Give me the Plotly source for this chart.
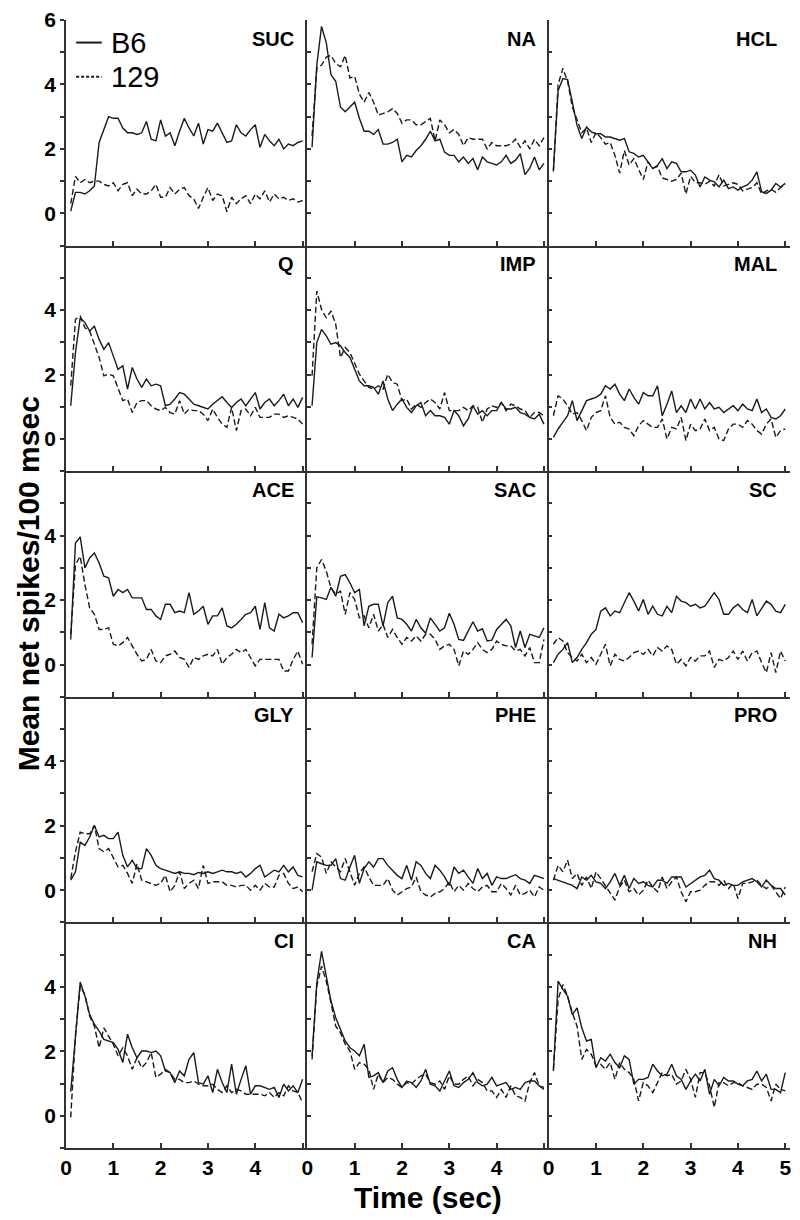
import plotly.graph_objects as go
from plotly.subplots import make_subplots

# time bins (sec), 100 ms each
time_s = [round(0.1 * i, 1) for i in range(1, 51)]

stimuli = ["SUC", "NA", "HCL", "Q", "IMP", "MAL", "ACE", "SAC", "SC",
           "GLY", "PHE", "PRO", "CI", "CA", "NH"]
strains = ["B6", "129"]

suc_b6 = [0.07, 0.65, 0.65, 0.6, 0.7, 0.85, 2.2, 2.6, 3.0, 2.95, 2.95, 2.65, 2.5, 2.5, 2.45, 2.5, 2.85, 2.3, 2.25, 2.9,
          2.4, 2.5, 2.1, 2.55, 2.95, 2.65, 2.4, 2.8, 2.15, 2.6, 2.55, 2.8, 2.5, 2.2, 2.25, 2.75, 2.5, 2.4, 2.6, 2.75,
          2.05, 2.45, 2.25, 2.1, 2.3, 2.0, 2.15, 2.1, 2.2, 2.25]
suc_129 = [0.3, 1.15, 0.95, 1.05, 0.95, 1.0, 1.0, 0.9, 0.85, 0.95, 0.7, 0.9, 0.95, 0.55, 0.75, 0.6, 0.6, 0.7, 0.9, 0.5,
           0.5, 0.8, 0.6, 0.75, 0.8, 0.55, 0.45, 0.15, 0.5, 0.8, 0.4, 0.6, 0.55, 0.05, 0.5, 0.3, 0.45, 0.55, 0.3, 0.6,
           0.45, 0.7, 0.35, 0.6, 0.45, 0.5, 0.4, 0.45, 0.35, 0.4]
na_b6 = [2.05, 4.6, 5.8, 5.3, 4.3, 4.1, 3.3, 3.15, 3.3, 3.45, 2.95, 2.55, 2.55, 2.45, 2.6, 2.15, 2.15, 2.2, 2.3, 1.6,
         1.8, 1.75, 1.95, 2.1, 2.3, 2.55, 2.25, 2.3, 1.9, 1.8, 1.8, 1.6, 1.75, 1.55, 1.7, 1.35, 1.75, 1.6, 1.55, 1.5,
         1.6, 1.8, 1.55, 1.65, 1.85, 1.2, 1.4, 1.75, 1.35, 1.55]
na_129 = [2.4, 4.5, 4.6, 4.85, 4.9, 4.65, 4.55, 4.9, 4.2, 4.25, 3.7, 3.45, 3.75, 3.45, 3.05, 3.1, 3.15, 3.25, 3.1, 2.8,
          2.9, 2.9, 2.75, 2.75, 2.85, 2.95, 2.25, 2.9, 2.75, 2.5, 2.6, 2.45, 2.1, 2.35, 2.3, 2.3, 2.3, 2.0, 2.2, 2.1,
          2.1, 2.1, 2.15, 2.3, 2.05, 2.25, 2.0, 2.3, 2.1, 2.35]
hcl_b6 = [1.34, 3.81, 4.18, 4.15, 3.45, 2.73, 2.32, 2.68, 2.53, 2.47, 2.47, 2.37, 2.37, 2.32, 2.27, 2.32, 1.91, 1.86,
          1.75, 1.8, 1.6, 1.39, 1.49, 1.7, 1.39, 1.6, 1.55, 1.29, 1.29, 1.34, 1.19, 0.82, 1.13, 1.03, 0.98, 0.82, 1.03,
          0.77, 0.82, 0.72, 0.82, 0.88, 1.03, 1.29, 0.67, 0.62, 0.72, 0.93, 0.82, 0.93]
hcl_129 = [1.3, 4.0, 4.5, 4.1, 3.3, 2.9, 2.5, 2.65, 2.2, 2.5, 2.35, 2.15, 2.2, 1.8, 1.25, 1.95, 1.5, 1.7, 1.4, 1.05,
           1.6, 1.4, 1.45, 1.1, 1.05, 1.0, 1.05, 1.25, 0.6, 1.15, 0.95, 0.95, 0.9, 1.0, 0.85, 1.2, 0.85, 0.9, 0.95,
           0.9, 0.7, 0.75, 0.8, 0.95, 0.6, 0.7, 0.75, 0.65, 0.8, 0.9]
q_b6 = [1.03, 2.68, 3.76, 3.61, 3.35, 3.5, 3.09, 2.78, 2.99, 2.58, 2.16, 2.27, 1.55, 2.22, 1.86, 1.6, 1.86, 1.65, 1.7,
        1.65, 1.03, 1.08, 1.24, 1.44, 1.39, 1.24, 1.08, 1.03, 0.98, 0.93, 1.08, 1.19, 1.31, 1.13, 0.98, 1.13, 1.24,
        1.03, 1.24, 1.44, 0.93, 1.13, 1.24, 1.03, 1.19, 1.39, 1.03, 1.24, 0.98, 1.29]
q_129 = [1.65, 3.71, 3.81, 3.45, 3.35, 2.94, 2.53, 1.96, 2.01, 1.96, 1.6, 1.19, 1.24, 0.82, 1.13, 1.19, 1.19, 1.03, 0.93,
         0.88, 0.98, 0.82, 0.77, 1.19, 0.77, 0.93, 0.88, 0.88, 0.77, 0.57, 0.93, 0.67, 0.46, 0.36, 0.98, 0.26, 0.88,
         0.93, 0.72, 0.98, 0.67, 0.67, 0.67, 0.77, 0.77, 0.67, 0.72, 0.67, 0.62, 0.46]
imp_b6 = [1.03, 2.99, 3.4, 3.2, 2.94, 2.99, 2.89, 2.68, 2.53, 2.16, 1.8, 1.65, 1.65, 1.6, 1.39, 1.8, 1.24, 0.88, 1.08,
          1.24, 0.98, 0.82, 1.03, 1.13, 0.72, 0.88, 0.72, 0.72, 0.67, 0.46, 0.88, 0.72, 0.41, 0.62, 1.03, 0.77, 0.88,
          0.72, 0.88, 0.88, 1.13, 0.93, 0.93, 0.98, 0.82, 0.77, 0.67, 0.62, 0.77, 0.46]
imp_129 = [1.96, 4.59, 4.02, 3.76, 3.97, 3.56, 2.53, 2.84, 2.68, 2.32, 2.01, 1.8, 1.6, 1.55, 1.65, 1.55, 2.01, 1.75, 1.7,
           1.19, 1.24, 0.93, 1.08, 0.98, 1.13, 1.24, 1.13, 0.93, 1.44, 0.88, 0.88, 0.88, 0.98, 0.88, 1.03, 0.98, 0.52,
           0.93, 1.03, 0.98, 1.13, 0.88, 1.08, 1.03, 0.93, 0.88, 0.67, 0.82, 0.82, 0.72]
mal_b6 = [0.05, 0.31, 0.52, 0.72, 1.19, 0.57, 0.88, 1.19, 1.24, 1.29, 1.39, 1.65, 1.55, 1.7, 1.39, 1.19, 1.55, 1.29, 1.08,
          1.44, 1.34, 1.34, 1.65, 0.72, 1.08, 1.49, 0.82, 1.03, 0.82, 1.24, 0.93, 1.24, 0.93, 1.13, 0.93, 0.98, 0.82,
          0.93, 1.03, 0.88, 1.08, 0.93, 0.88, 1.24, 0.82, 0.93, 0.67, 0.62, 0.72, 0.93]
mal_129 = [0.72, 1.34, 1.24, 1.03, 0.77, 0.82, 0.57, 0.26, 0.67, 0.82, 0.88, 1.34, 0.67, 0.46, 0.52, 0.36, 0.31, 0.1,
           0.41, 0.57, 0.46, 0.36, 0.36, 0.62, 0.0, 0.36, 0.31, 0.67, -0.05, 0.46, 0.26, 0.31, 0.62, 0.26, 0.36, 0.0,
           -0.05, 0.31, 0.46, 0.46, 0.36, 0.57, 0.46, 0.26, 0.15, 0.46, 0.62, 0.05, 0.26, 0.31]
ace_b6 = [0.78, 3.77, 3.96, 3.0, 3.31, 3.46, 3.15, 2.74, 2.69, 2.12, 2.33, 2.23, 2.33, 2.07, 2.07, 2.07, 1.71, 1.71, 1.51,
          1.4, 1.87, 1.87, 1.61, 1.66, 1.61, 2.23, 1.56, 1.66, 1.81, 1.25, 1.51, 1.51, 1.76, 1.2, 1.14, 1.25, 1.4, 1.56,
          1.61, 1.81, 1.09, 1.92, 1.14, 1.04, 1.56, 1.45, 1.51, 1.61, 1.61, 1.3]
ace_129 = [0.94, 3.1, 3.36, 2.48, 1.76, 1.56, 1.09, 1.09, 1.14, 0.63, 0.58, 0.68, 0.84, 0.58, 0.32, 0.11, 0.16, 0.47,
           0.11, 0.06, 0.27, 0.32, 0.42, 0.22, 0.16, -0.09, 0.22, 0.16, 0.27, 0.32, 0.27, 0.47, 0.01, 0.22, 0.32, 0.47,
           0.37, 0.47, 0.22, -0.04, 0.16, 0.16, 0.16, 0.16, 0.16, -0.2, -0.2, 0.16, 0.42, 0.01]
sac_b6 = [0.22, 2.1, 2.07, 2.02, 2.4, 2.12, 2.74, 2.79, 2.54, 2.23, 2.33, 1.2, 1.81, 1.87, 1.87, 1.2, 1.92, 2.12, 1.45,
          1.4, 1.25, 1.04, 1.4, 1.14, 0.97, 1.45, 1.25, 1.04, 1.14, 1.59, 1.25, 0.78, 0.75, 1.04, 1.33, 1.04, 1.11, 0.73,
          0.76, 1.09, 1.25, 1.4, 1.2, 0.53, 1.04, 0.53, 0.94, 0.89, 0.84, 1.14]
sac_129 = [0.63, 3.0, 3.26, 2.9, 2.38, 2.18, 2.28, 1.56, 2.23, 2.02, 1.45, 1.51, 1.14, 1.56, 1.04, 1.25, 0.84, 1.09, 0.84,
           0.63, 0.84, 0.73, 0.89, 0.73, 0.94, 0.94, 0.78, 0.47, 0.58, 0.63, 0.47, -0.04, 0.42, 0.32, 0.47, 0.68, 0.47,
           0.37, 0.47, 0.73, 0.63, 0.58, 0.58, 0.42, 0.47, 0.27, 0.53, 0.06, 0.06, 0.78]
sc_b6 = [0.06, 0.32, 0.47, 0.68, 0.06, 0.22, 0.47, 0.68, 0.94, 1.09, 1.66, 1.76, 1.51, 1.66, 1.61, 1.92, 2.23, 1.97, 1.66,
         2.02, 1.56, 1.81, 1.56, 1.51, 1.81, 1.61, 2.12, 1.97, 1.92, 1.81, 1.87, 1.76, 1.81, 2.02, 2.23, 2.02, 1.56,
         1.56, 1.76, 1.87, 1.71, 1.61, 2.02, 1.51, 1.76, 1.97, 1.87, 1.66, 1.61, 1.87]
sc_129 = [0.63, 0.84, 0.73, 0.37, 0.22, 0.11, 0.32, 0.06, 0.22, 0.01, 0.32, 0.63, -0.04, 0.32, 0.16, 0.11, 0.22, 0.37,
          0.42, 0.32, 0.47, 0.27, 0.53, 0.42, 0.58, 0.47, 0.01, 0.16, -0.04, 0.22, 0.11, 0.27, 0.27, 0.42, -0.09, 0.16,
          0.11, 0.22, 0.42, 0.16, 0.42, 0.11, 0.37, 0.42, 0.06, -0.25, 0.37, -0.25, 0.42, 0.11]
gly_b6 = [0.31, 0.57, 1.49, 1.39, 1.65, 2.01, 1.65, 1.7, 1.6, 1.6, 1.8, 1.08, 0.72, 0.93, 0.67, 0.67, 1.29, 1.08, 0.77,
          0.67, 0.62, 0.57, 0.52, 0.57, 0.52, 0.52, 0.48, 0.55, 0.52, 0.57, 0.52, 0.57, 0.62, 0.57, 0.57, 0.52, 0.57,
          0.41, 0.52, 0.67, 0.77, 0.41, 0.52, 0.62, 0.57, 0.77, 0.57, 0.72, 0.46, 0.41]
gly_129 = [0.36, 1.19, 1.8, 1.75, 1.75, 2.01, 1.29, 1.19, 1.29, 0.98, 0.72, 0.77, 0.52, 0.21, 0.82, 0.31, 0.26, 0.21,
           0.15, 0.21, 0.46, -0.05, 0.15, 0.57, 0.05, 0.21, 0.31, 0.05, 0.77, 0.21, 0.26, 0.26, 0.26, 0.15, 0.15, 0.1,
           0.15, 0.15, 0.0, 0.15, 0.0, 0.21, 0.1, 0.1, 0.46, 0.52, 0.21, 0.05, 0.1, -0.05]
phe_b6 = [0.0, 0.88, 0.82, 0.77, 0.77, 0.98, 0.36, 0.31, 0.72, 1.08, 0.21, 0.67, 0.88, 0.72, 0.98, 0.98, 0.77, 0.62, 0.46,
          0.36, 0.77, 0.31, 0.88, 0.77, 0.52, 0.36, 0.77, 0.62, 0.41, 0.15, 0.72, 0.52, 0.62, 0.41, 0.21, 0.67, 0.36,
          0.52, 0.15, 0.41, 0.36, 0.36, 0.41, 0.48, 0.36, 0.31, 0.21, 0.46, 0.41, 0.36]
phe_129 = [0.57, 1.13, 1.03, 0.52, 0.88, 0.72, 0.57, 0.98, 0.57, 0.15, 0.52, 0.72, 0.41, 0.15, 0.15, 0.15, 0.36, 0.0,
           -0.15, -0.05, 0.05, 0.1, 0.41, -0.05, -0.15, -0.21, -0.1, -0.05, 0.05, 0.26, -0.05, 0.15, 0.0, 0.21, 0.05,
           -0.05, 0.1, 0.15, -0.05, -0.05, 0.21, 0.05, -0.15, 0.15, -0.15, -0.1, 0.0, -0.21, 0.1, 0.0]
pro_b6 = [0.36, 0.31, 0.26, 0.21, 0.15, 0.05, 0.41, 0.31, 0.46, 0.26, 0.21, 0.05, 0.26, 0.52, 0.15, 0.46, 0.05, 0.36,
          0.21, 0.26, 0.15, 0.1, 0.31, 0.31, 0.21, 0.41, 0.41, 0.41, 0.1, 0.21, 0.31, 0.41, 0.46, 0.62, 0.36, 0.31, 0.15,
          0.21, 0.15, 0.15, 0.26, 0.31, 0.36, 0.26, 0.1, 0.31, 0.15, 0.05, 0.05, -0.15]
pro_129 = [0.31, 0.77, 0.57, 0.93, 0.36, 0.52, 0.15, 0.41, 0.05, 0.57, 0.36, 0.15, -0.1, -0.31, 0.1, 0.31, -0.05, 0.05,
           -0.15, 0.0, 0.31, 0.1, -0.05, 0.41, 0.05, 0.26, 0.41, -0.05, -0.36, -0.05, -0.05, 0.0, 0.15, 0.26, 0.26,
           0.15, 0.31, 0.05, 0.21, -0.26, 0.21, 0.21, 0.26, 0.31, 0.15, 0.05, 0.15, -0.05, -0.26, 0.1]
ci_b6 = [0.75, 2.5, 4.15, 3.71, 3.14, 2.84, 2.63, 2.37, 2.32, 2.27, 2.06, 1.65, 2.53, 2.11, 1.8, 2.01, 2.01, 1.96, 2.01,
         1.86, 1.39, 1.34, 1.03, 1.39, 1.24, 1.75, 1.96, 1.03, 0.98, 1.24, 0.72, 1.44, 1.03, 0.72, 1.6, 0.67, 1.13, 1.55,
         0.67, 0.93, 0.93, 0.88, 0.82, 0.88, 0.57, 0.98, 0.77, 0.93, 0.72, 1.13]
ci_129 = [-0.05, 2.5, 4.02, 3.76, 3.09, 2.78, 2.11, 2.73, 2.47, 2.22, 1.86, 2.11, 1.86, 1.44, 1.8, 1.49, 1.65, 1.96, 1.19,
          1.29, 1.44, 1.34, 1.13, 1.13, 1.03, 1.03, 1.08, 0.98, 0.93, 0.93, 0.98, 0.82, 0.72, 0.93, 0.72, 0.82, 0.77,
          0.67, 0.67, 0.67, 0.67, 0.62, 0.72, 0.57, 0.72, 0.62, 0.93, 0.77, 0.72, 0.41]
ca_b6 = [1.86, 4.12, 5.1, 4.38, 3.56, 3.04, 2.68, 2.32, 2.11, 2.01, 1.86, 2.22, 1.19, 1.24, 1.34, 1.03, 1.39, 1.49, 1.13,
         0.88, 1.08, 1.03, 0.88, 1.08, 1.44, 0.98, 0.93, 0.77, 1.08, 1.39, 0.93, 0.88, 1.03, 1.13, 1.34, 1.03, 0.93,
         0.98, 1.19, 0.93, 0.98, 1.03, 0.82, 0.88, 0.82, 1.03, 1.08, 1.08, 0.93, 0.88]
ca_129 = [1.75, 4.02, 4.64, 4.18, 3.5, 2.78, 2.58, 2.22, 2.01, 1.44, 1.65, 1.6, 1.44, 0.82, 1.29, 1.03, 1.19, 1.13, 0.98,
          0.88, 1.03, 0.98, 1.13, 1.24, 1.29, 1.03, 0.98, 1.08, 0.82, 1.24, 0.98, 0.98, 1.13, 1.24, 0.93, 1.13, 1.03,
          0.77, 0.77, 0.57, 0.82, 0.57, 0.93, 0.62, 0.57, 0.46, 1.03, 1.34, 0.93, 0.82]
nh_b6 = [1.39, 4.18, 3.92, 3.71, 3.14, 3.35, 2.73, 2.32, 2.37, 1.49, 1.8, 1.7, 1.91, 1.65, 1.49, 1.86, 1.75, 0.98, 1.13,
         1.13, 1.19, 1.6, 1.39, 1.24, 1.29, 1.6, 1.24, 1.13, 0.82, 1.08, 1.29, 1.08, 1.44, 0.67, 1.13, 0.93, 1.19, 1.08,
         1.08, 0.98, 0.93, 1.08, 1.13, 1.39, 1.08, 1.29, 0.82, 0.82, 0.72, 1.34]
nh_129 = [1.44, 3.61, 4.07, 3.71, 3.2, 2.78, 1.75, 2.06, 1.91, 1.55, 1.6, 1.44, 1.65, 1.13, 1.65, 1.44, 1.34, 1.13, 0.46,
          1.03, 0.93, 0.72, 1.03, 1.34, 1.24, 1.29, 0.98, 1.08, 1.44, 1.13, 0.57, 1.34, 1.34, 0.93, 0.26, 1.03, 1.03,
          0.93, 1.03, 1.03, 0.93, 0.88, 0.82, 0.98, 0.98, 0.88, 0.46, 0.98, 0.82, 0.77]

series_b6 = [suc_b6, na_b6, hcl_b6, q_b6, imp_b6, mal_b6, ace_b6, sac_b6, sc_b6,
             gly_b6, phe_b6, pro_b6, ci_b6, ca_b6, nh_b6]
series_129 = [suc_129, na_129, hcl_129, q_129, imp_129, mal_129, ace_129, sac_129, sc_129,
              gly_129, phe_129, pro_129, ci_129, ca_129, nh_129]

x_ticks = [0, 1, 2, 3, 4, 5]
y_ticks = [-1, 0, 1, 2, 3, 4, 5, 6]

FONT = "Liberation Sans"
INK = "#1a1a1a"
AXIS = "#333333"
DASH = "6px,3px"

fig = make_subplots(rows=5, cols=3, horizontal_spacing=0, vertical_spacing=0)

for i, name in enumerate(stimuli):
    r, c = i // 3 + 1, i % 3 + 1
    fig.add_trace(go.Scatter(x=time_s, y=series_b6[i], mode="lines", name=strains[0],
                             line=dict(color=INK, width=1.4), showlegend=False), row=r, col=c)
    fig.add_trace(go.Scatter(x=time_s, y=series_129[i], mode="lines", name=strains[1],
                             line=dict(color=INK, width=1.4, dash=DASH), showlegend=False), row=r, col=c)

    # x axis: ticks every second, labels only on the bottom row
    xlabels = ["0", "1", "2", "3", "4", "5" if c == 3 else ""]
    fig.update_xaxes(range=[0, 5.1], tickvals=x_ticks, ticktext=xlabels,
                     showticklabels=(r == 5), ticks="inside", ticklen=5, tickwidth=1.5,
                     tickcolor=AXIS, showline=True, linecolor=AXIS, linewidth=2,
                     showgrid=False, zeroline=False, automargin=False,
                     ticklabeloverflow="allow",
                     tickfont=dict(family=FONT, size=21, color="black", weight="bold"),
                     row=r, col=c)

    ylabels = ["", "0", "", "2", "", "4", "", "6" if r == 1 else ""]
    fig.update_yaxes(range=[-1, 6], tickvals=y_ticks, ticktext=ylabels,
                     showticklabels=(c == 1), ticks="outside" if c == 1 else "inside",
                     ticklen=4, tickwidth=1.5, tickcolor=AXIS,
                     showline=True, linecolor=AXIS, linewidth=1.5,
                     showgrid=False, zeroline=False, automargin=False,
                     ticklabeloverflow="allow",
                     tickfont=dict(family=FONT, size=21, color="black", weight="bold"),
                     row=r, col=c)

    # stimulus label in the upper right corner of each panel
    ref = "x" if i == 0 else f"x{i + 1}"
    yref = "y" if i == 0 else f"y{i + 1}"
    fig.add_annotation(text=name, xref=f"{ref} domain", yref=f"{yref} domain",
                       x=0.955, y=0.975, xanchor="right", yanchor="top", showarrow=False,
                       font=dict(family=FONT, size=20, color="black", weight="bold"))

# key in the first panel: short line sample + strain name
for label, dash, ypos in [(strains[0], "solid", 0.9), (strains[1], "3px,2px", 0.748)]:
    fig.add_shape(type="line", xref="x domain", yref="y domain",
                  x0=0.042, x1=0.148, y0=ypos, y1=ypos,
                  line=dict(color=INK, width=2, dash=dash))
    fig.add_annotation(text=label, xref="x domain", yref="y domain",
                       x=0.178, y=ypos, xanchor="left", yanchor="middle", showarrow=False,
                       font=dict(family=FONT, size=29, color="black"))

fig.add_annotation(text="Mean net spikes/100 msec", xref="paper", yref="paper",
                   x=-0.052, y=0.5, textangle=-90, showarrow=False,
                   xanchor="center", yanchor="middle",
                   font=dict(family=FONT, size=30, color="black", weight="bold"))
fig.add_annotation(text="Time (sec)", xref="paper", yref="paper",
                   x=0.5, y=-0.044, showarrow=False, xanchor="center", yanchor="middle",
                   font=dict(family=FONT, size=30, color="black", weight="bold"))

# the page body adds an 8 px offset, so the figure is sized to fit the window
fig.update_layout(
    width=792, height=1212,
    margin=dict(l=58, r=10, t=12, b=72),
    paper_bgcolor="white", plot_bgcolor="white",
    showlegend=False,
)

fig.write_html("out.html")
